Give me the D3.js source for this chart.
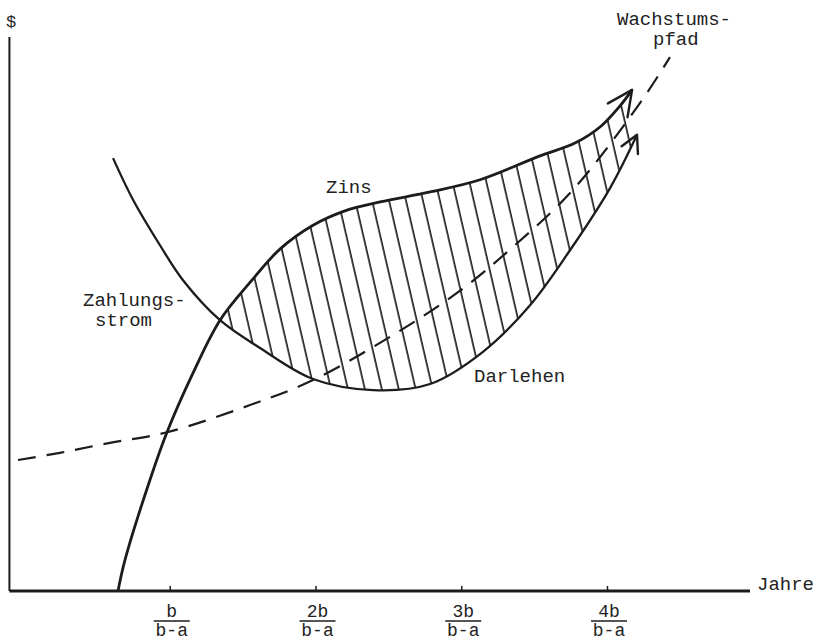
<!DOCTYPE html>
<html>
<head>
<meta charset="utf-8">
<script src="https://cdn.jsdelivr.net/npm/d3@7/dist/d3.min.js"></script>
<style>
  body { margin: 0; background: #fff; }
  text { font-family: "Liberation Mono", "DejaVu Sans Mono", monospace; fill: #222; }
</style>
</head>
<body>
<div id="container"></div>
<script>
// x in units of b/(b-a) years, y in arbitrary $ units
let zahlungsstrom = [
  [0.645, 0], [0.693, 0.56], [0.864, 2.00], [0.981, 2.86], [1.160, 3.93],
  [1.345, 4.88], [1.564, 5.60], [1.756, 6.16], [1.983, 6.59], [2.202, 6.85],
  [2.443, 7.01], [2.786, 7.19], [3.129, 7.41], [3.540, 7.84], [3.780, 8.07],
  [3.952, 8.36], [4.089, 8.74], [4.172, 9.03]
];
let darlehen = [
  [0.611, 7.80], [0.748, 7.05], [0.933, 6.23], [1.091, 5.60], [1.345, 4.88],
  [1.619, 4.38], [1.983, 3.82], [2.395, 3.62], [2.786, 3.73], [3.149, 4.31],
  [3.472, 5.15], [3.746, 6.14], [4.021, 7.26], [4.206, 8.22]
];
let wachstumspfad = [
  [-0.041, 2.36], [0.247, 2.49], [0.590, 2.67], [0.981, 2.86], [1.551, 3.35],
  [1.983, 3.80], [2.511, 4.58], [2.971, 5.37], [3.355, 6.20], [3.767, 7.23],
  [4.226, 8.79], [4.432, 9.62]
];
let tickValues = [1, 2, 3, 4];
let tickNumerators = ["b", "2b", "3b", "4b"];
let tickDenominator = "b-a";

let w = 819;
let h = 642;
let ink = "#1c1c1c";

let viz = d3.select("#container")
  .append("svg")
  .attr("width", w)
  .attr("height", h);

let xScale = d3.scaleLinear().domain([0, 4]).range([24, 607]);
let yScale = d3.scaleLinear().domain([0, 10]).range([591, 36]);

let defs = viz.append("defs");

// hatching between Zins and Darlehen
let pattern = defs.append("pattern")
  .attr("id", "hatch")
  .attr("patternUnits", "userSpaceOnUse")
  .attr("width", 16.5)
  .attr("height", 40)
  .attr("patternTransform", "rotate(-13)");
pattern.append("line")
  .attr("x1", 4).attr("y1", 0).attr("x2", 4).attr("y2", 40)
  .attr("stroke", "#111").attr("stroke-width", 1.6);

function arrowMarker(id, len, half) {
  defs.append("marker")
    .attr("id", id)
    .attr("markerUnits", "userSpaceOnUse")
    .attr("viewBox", "-40 -20 50 40")
    .attr("markerWidth", 50).attr("markerHeight", 40)
    .attr("refX", 0).attr("refY", 0)
    .attr("orient", "auto")
    .append("path")
    .attr("d", "M" + (-len) + "," + (-half) + " L0,0 L" + (-len) + "," + half)
    .attr("fill", "none")
    .attr("stroke", ink)
    .attr("stroke-width", 2.4)
    .attr("stroke-linecap", "round")
    .attr("stroke-linejoin", "round");
}
arrowMarker("arrowUp", 25, 12);
arrowMarker("arrowLow", 17, 9);

let line = d3.line()
  .x(function (d) { return xScale(d[0]); })
  .y(function (d) { return yScale(d[1]); })
  .curve(d3.curveCatmullRom);

// closed region: Zins from the crossing to its end, back along Darlehen
let upperPart = zahlungsstrom.slice(5);
let lowerPart = darlehen.slice(4).reverse();
let regionPath = line(upperPart) + "L" + line(lowerPart).slice(1) + "Z";

defs.append("clipPath").attr("id", "regionClip")
  .append("path").attr("d", regionPath);

viz.append("rect")
  .attr("x", 0).attr("y", 0).attr("width", w).attr("height", h)
  .attr("fill", "url(#hatch)")
  .attr("clip-path", "url(#regionClip)");

// axes
let xAxisGroup = viz.append("g")
  .attr("class", "xaxisgroup")
  .attr("transform", "translate(0," + yScale(0) + ")");
xAxisGroup.call(d3.axisBottom(xScale).tickValues(tickValues).tickSize(-5).tickFormat(""));
xAxisGroup.select(".domain").remove();
xAxisGroup.selectAll(".tick line").attr("stroke", ink).attr("stroke-width", 1.5);

viz.append("line")
  .attr("x1", xScale(-0.1)).attr("y1", yScale(0))
  .attr("x2", 750).attr("y2", yScale(0))
  .attr("stroke", ink).attr("stroke-width", 2.8);

viz.append("line")
  .attr("x1", xScale(-0.1)).attr("y1", yScale(0))
  .attr("x2", xScale(-0.1)).attr("y2", 37)
  .attr("stroke", ink).attr("stroke-width", 2);

// curves
viz.append("path")
  .attr("d", line(wachstumspfad))
  .attr("fill", "none")
  .attr("stroke", ink)
  .attr("stroke-width", 2.2)
  .attr("stroke-dasharray", "18,11");

viz.append("path")
  .attr("d", line(darlehen))
  .attr("fill", "none")
  .attr("stroke", ink)
  .attr("stroke-width", 2.3)
  .attr("marker-end", "url(#arrowLow)");

viz.append("path")
  .attr("d", line(zahlungsstrom))
  .attr("fill", "none")
  .attr("stroke", ink)
  .attr("stroke-width", 2.8)
  .attr("marker-end", "url(#arrowUp)");

// tick labels as fractions
let fracs = viz.append("g").attr("class", "fractions");
tickValues.forEach(function (v, i) {
  let cx = xScale(v) + 2;
  fracs.append("text")
    .attr("x", cx).attr("y", 617)
    .attr("text-anchor", "middle")
    .style("font-size", "18px")
    .text(tickNumerators[i]);
  fracs.append("line")
    .attr("x1", cx - 18).attr("x2", cx + 18)
    .attr("y1", 621).attr("y2", 621)
    .attr("stroke", ink).attr("stroke-width", 1.5);
  fracs.append("text")
    .attr("x", cx).attr("y", 636)
    .attr("text-anchor", "middle")
    .style("font-size", "18px")
    .text(tickDenominator);
});

function label(txt, x, y, size) {
  viz.append("text")
    .attr("x", x).attr("y", y)
    .style("font-size", (size || 19) + "px")
    .text(txt);
}
label("$", 6, 27, 17);
label("Jahre", 757, 590);
label("Wachstums-", 617, 25);
label("pfad", 653, 45);
label("Zins", 326, 193);
label("Zahlungs-", 83, 306);
label("strom", 95, 326);
label("Darlehen", 474, 382);
</script>
</body>
</html>
